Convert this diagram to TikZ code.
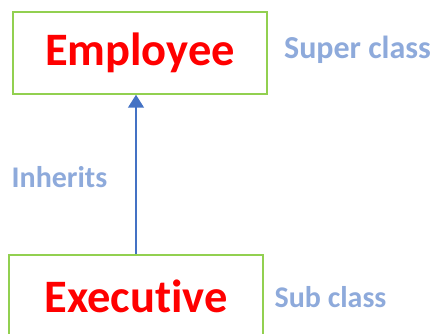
\documentclass[tikz,border=0pt]{standalone}
\usepackage{fontspec}
\setmainfont[Ligatures=NoCommon]{Carlito}
\usetikzlibrary{arrows.meta}
\definecolor{boxgreen}{HTML}{92D050}
\definecolor{arrowblue}{HTML}{4472C4}
\definecolor{labelblue}{HTML}{8EAADB}
\tikzset{classbox/.style={draw=boxgreen, line width=1.5pt, minimum width=254pt, minimum height=82pt, font=\bfseries\fontsize{46.5}{52}\selectfont, text=red},
  rolelabel/.style={font=\bfseries\fontsize{30}{34}\selectfont, text=labelblue}}
\begin{document}
\begin{tikzpicture}[x=1pt,y=-1pt]
\useasboundingbox (0,0) rectangle (437,334);
\node[classbox] (employee) at (140,53) {Employee}; % super class
\node[rolelabel, font=\bfseries\fontsize{32}{36}\selectfont] (super) at (357.5,50) {Super class};
\node[classbox] (executive) at (136,296) {Executive}; % sub class
\node[rolelabel] (sub) at (330.5,297) {Sub class};
\node[rolelabel] (inherits) at (59.5,177) {Inherits};
\draw[arrowblue, line width=1.5pt, -{Triangle[width=16pt,length=13pt]}] (executive.north -| 136,0) -- (employee.south -| 136,0);
\end{tikzpicture}
\end{document}
